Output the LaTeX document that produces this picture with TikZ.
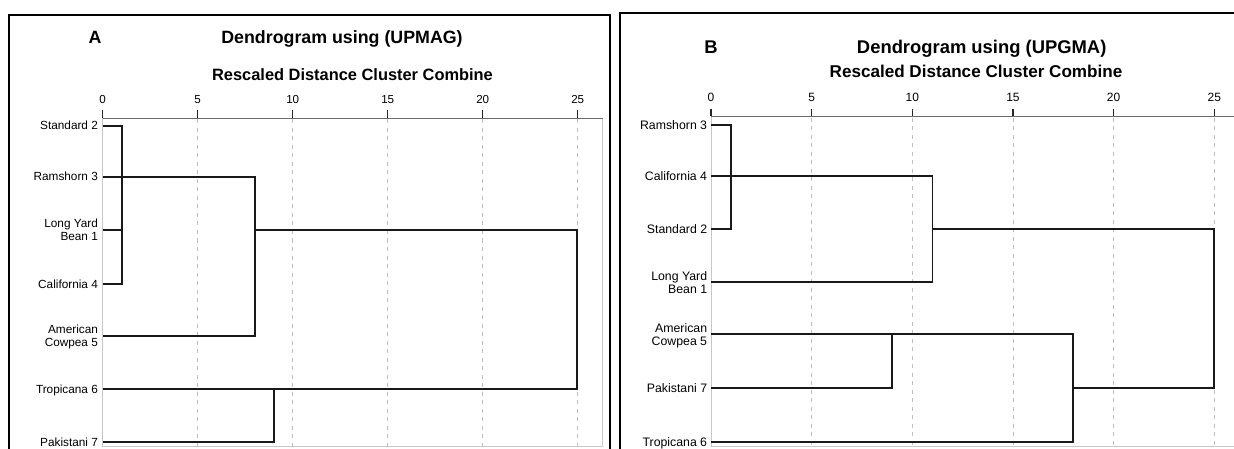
\documentclass[tikz,border=0pt]{standalone}
\usepackage{fontspec}
\setmainfont{Liberation Sans}
\begin{document}
\begin{tikzpicture}[x=1pt,y=-1pt,
  frame/.style={line width=2pt,black},
  plotbox/.style={line width=1pt,draw=black!22},
  axisline/.style={line width=1.5pt,draw=black!58},
  tickmark/.style={line width=1.5pt,black!85},
  gridline/.style={line width=0.9pt,draw=black!25,dash pattern=on 4pt off 4.5pt},
  dline/.style={line width=1.8pt,draw=black!90},
  ttl/.style={font=\fontsize{17.8}{20}\selectfont\bfseries,anchor=base,inner sep=0pt},
  sub/.style={font=\fontsize{16.4}{19}\selectfont\bfseries,anchor=base,inner sep=0pt},
  ticklab/.style={font=\fontsize{11.6}{13}\selectfont,anchor=base,inner sep=0pt},
  leafA/.style={font=\fontsize{11.8}{13}\selectfont,align=right,anchor=east,inner xsep=4.6pt,inner ysep=0pt,text depth=0pt},
  leafB/.style={font=\fontsize{12.3}{13.4}\selectfont,align=right,anchor=east,inner xsep=3.7pt,inner ysep=0pt,text depth=0pt}]
\useasboundingbox (0,0) rectangle (1234,449);
\fill[white] (0,0) rectangle (1234,449);

% ---------------- Panel A ----------------
\draw[frame] (9,460) -- (9,15) -- (609.5,15) -- (609.5,460);
\node[ttl] (tA) at (95,43.3) {A};
\node[ttl] (hA) at (342,43.3) {Dendrogram using (UPMAG)};
\node[sub] (sA) at (352.5,81) {Rescaled Distance Cluster Combine};

\draw[plotbox] (102.7,118.3) -- (102.7,446.7) -- (602,446.7) -- (602,118.3);
\foreach \v in {5,10,15,20,25}{
  \draw[gridline] ({102.7+19*\v},119.5) -- ({102.7+19*\v},446);
}
\draw[axisline] (102.7,118.3) -- (602.7,118.3);
\foreach \v in {0,5,10,15,20,25}{
  \draw[tickmark] ({102.7+19*\v},110.5) -- ({102.7+19*\v},118.3);
  \node[ticklab] (tkA\v) at ({102.7+19*\v},104) {\v};
}

\node[leafA] (aS2) at (102.7,125.7) {Standard 2};
\node[leafA] (aR3) at (102.7,176.7) {Ramshorn 3};
\node[leafA] (aL1) at (102.7,230.2) {Long Yard\\Bean 1};
\node[leafA] (aC4) at (102.7,284) {California 4};
\node[leafA] (aA5) at (102.7,335.7) {American\\Cowpea 5};
\node[leafA] (aT6) at (102.7,389) {Tropicana 6};
\node[leafA] (aP7) at (102.7,442.3) {Pakistani 7};

\coordinate (ax1) at (121.7,0);
\coordinate (ax8) at (254.7,0);
\coordinate (ax9) at (273.7,0);
\coordinate (ax25) at (577.3,0);

\draw[dline] (aS2.east) -| (aC4.east -| ax1) -- (aC4.east);
\draw[dline] (aL1.east) -- (aL1.east -| ax1);
\draw[dline] (aR3.east) -| (aA5.east -| ax8) -- (aA5.east);
\draw[dline] (aL1.east -| ax8) -| (aT6.east -| ax25) -- (aT6.east);
\draw[dline] (aP7.east) -| (aT6.east -| ax9);

% ---------------- Panel B ----------------
\draw[frame] (620,460) -- (620,13.5) -- (1240,13.5);
\node[ttl,font=\fontsize{18.4}{21}\selectfont\bfseries] (tB) at (711,54) {B};
\node[ttl,font=\fontsize{18.4}{21}\selectfont\bfseries] (hB) at (981.7,54) {Dendrogram using (UPGMA)};
\node[sub,font=\fontsize{17.1}{20}\selectfont\bfseries] (sB) at (976,77.3) {Rescaled Distance Cluster Combine};

\draw[plotbox] (711,116.5) -- (711,446.7) -- (1240,446.7);
\foreach \v in {5,10,15,20,25}{
  \draw[gridline] ({711+20.13*\v},117.7) -- ({711+20.13*\v},446);
}
\draw[axisline] (711,116.5) -- (1240,116.5);
\foreach \v in {0,5,10,15,20,25}{
  \draw[tickmark] ({711+20.13*\v},108.7) -- ({711+20.13*\v},116.5);
  \node[ticklab,font=\fontsize{12}{13}\selectfont] (tkB\v) at ({711+20.13*\v},101.7) {\v};
}

\node[leafB] (bR3) at (711,125) {Ramshorn 3};
\node[leafB] (bC4) at (711,176) {California 4};
\node[leafB] (bS2) at (711,229) {Standard 2};
\node[leafB] (bL1) at (711,282.3) {Long Yard\\Bean 1};
\node[leafB] (bA5) at (711,334.3) {American\\Cowpea 5};
\node[leafB] (bP7) at (711,388.3) {Pakistani 7};
\node[leafB] (bT6) at (711,441.7) {Tropicana 6};

\coordinate (bx1) at (731.1,0);
\coordinate (bx9) at (892.2,0);
\coordinate (bx11) at (932.4,0);
\coordinate (bx18) at (1073.3,0);
\coordinate (bx25) at (1214.3,0);

\draw[dline] (bR3.east) -| (bS2.east -| bx1) -- (bS2.east);
\draw[dline] (bC4.east) -| (bL1.east -| bx11) -- (bL1.east);
\draw[dline] (bS2.east -| bx11) -| (bP7.east -| bx25) -- (bP7.east -| bx18);
\draw[dline] (bA5.east) -| (bT6.east -| bx18) -- (bT6.east);
\draw[dline] (bP7.east) -| (bA5.east -| bx9);
\end{tikzpicture}
\end{document}
